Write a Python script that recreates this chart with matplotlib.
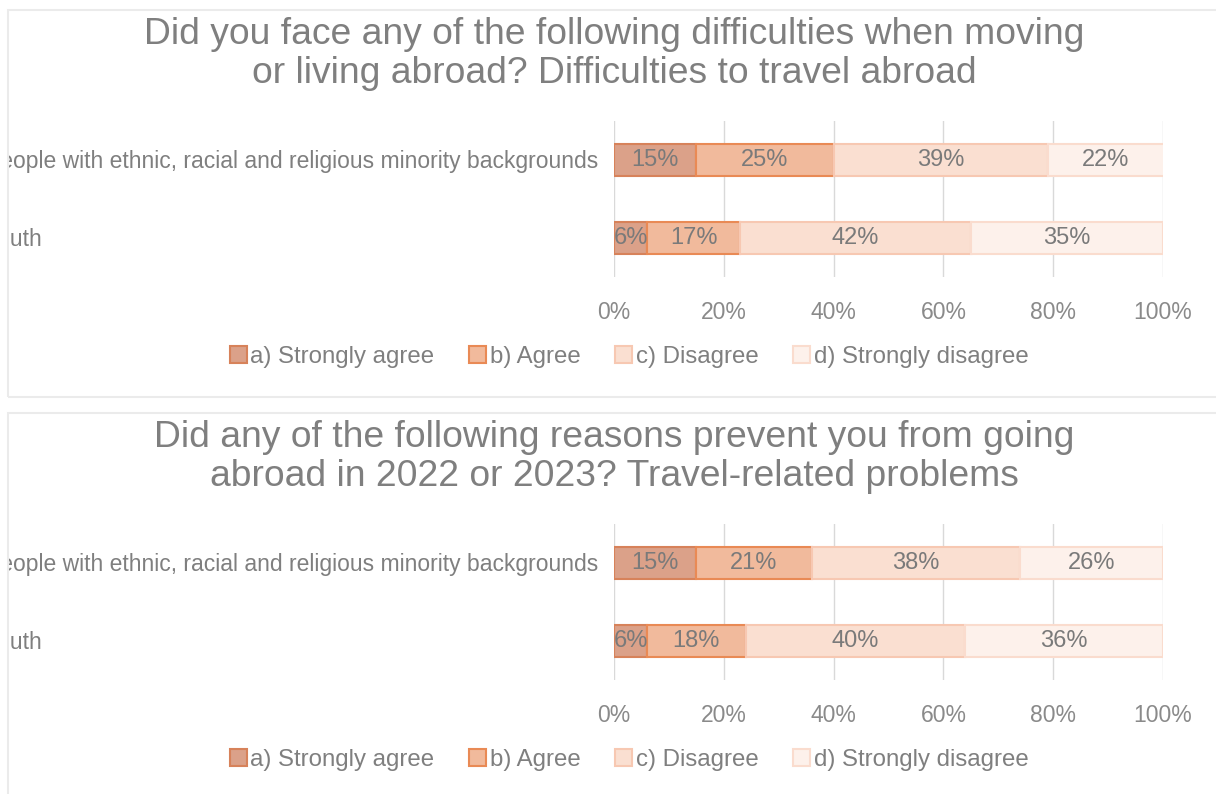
import matplotlib.pyplot as plt
from matplotlib.patches import Rectangle, Patch
from matplotlib.transforms import blended_transform_factory, Bbox, TransformedBbox
import numpy as np

plt.rcParams["font.family"] = ["Liberation Sans", "DejaVu Sans"]

categories = ["People with ethnic, racial and religious minority backgrounds", "Youth"]
answers = ["a) Strongly agree", "b) Agree", "c) Disagree", "d) Strongly disagree"]

titles = ["Did you face any of the following difficulties when moving\n"
          "or living abroad? Difficulties to travel abroad",
          "Did any of the following reasons prevent you from going\n"
          "abroad in 2022 or 2023? Travel-related problems"]

# share of answers in %, one row per category
travel_difficulties = [[15, 25, 39, 22], [6, 17, 42, 35]]
travel_problems = [[15, 21, 38, 26], [6, 18, 40, 36]]

fill_colors = ["#DBA189", "#F1BA9C", "#FADFD1", "#FDF1EB"]
edge_colors = ["#D7825A", "#E98A55", "#F7C8B2", "#FADCCE"]
grey = "#7f7f7f"

W, H = 1216, 794
fig = plt.figure(figsize=(W / 100, H / 100), dpi=100)


def px_box(x, y, w, h):
    # pixel box measured from the top-left corner -> figure fraction
    return [x / W, 1 - (y + h) / H, w / W, h / H]


def draw_panel(top, title, values):
    frame = Rectangle((8 / W, 1 - (top + 387) / H), 1.2, 387 / H,
                      transform=fig.transFigure, fill=False,
                      edgecolor="#ebebeb", lw=1.5)
    fig.patches.append(frame)
    inside = TransformedBbox(Bbox.from_bounds(9 / W, 1 - (top + 387) / H, 1, 387 / H),
                             fig.transFigure)

    fig.text(614 / W, 1 - (top + 44) / H, title, ha="center", va="center",
             fontsize=26.8, color=grey, linespacing=1.18)

    ax = fig.add_axes(px_box(614, top + 111, 549, 156))
    vals = np.array(values)
    y = np.arange(len(categories))
    left = np.zeros(len(categories))
    for i in range(len(answers)):
        bars = ax.barh(y, vals[:, i], left=left, height=0.41,
                       color=fill_colors[i], edgecolor=edge_colors[i],
                       lw=1.5, zorder=2, label=answers[i])
        ax.bar_label(bars, labels=[f"{v}%" for v in vals[:, i]],
                     label_type="center", fontsize=17, color="#7a7a7a")
        left += vals[:, i]

    ax.set_xlim(0, 100)
    ax.set_ylim(1.5, -0.5)
    ax.set_xticks(np.arange(0, 101, 20))
    ax.set_xticklabels([f"{t}%" for t in range(0, 101, 20)])
    ax.set_yticks([])
    ax.tick_params(length=0, labelsize=16.5, colors="#8a8a8a", pad=17)
    ax.grid(axis="x", color="#d9d9d9", lw=1, zorder=0)
    for s in ax.spines.values():
        s.set_visible(False)

    # category names are left aligned and cut by the panel frame
    trans = blended_transform_factory(fig.transFigure, ax.transData)
    for yi, name in zip(y, categories):
        fig.text(-15 / W, yi + 0.02, name, transform=trans, ha="left", va="center",
                 fontsize=16.5, color=grey, clip_box=inside, clip_on=True)

    handles = [Patch(facecolor=fill_colors[i], edgecolor=edge_colors[i], lw=1.5)
               for i in range(len(answers))]
    fig.legend(handles, answers, loc="center",
               bbox_to_anchor=(629 / W, 1 - (top + 347) / H), ncol=4,
               frameon=False, fontsize=17.3, labelcolor=grey,
               handlelength=0.7, handleheight=0.7, handletextpad=0.15,
               columnspacing=1.45)


draw_panel(10, titles[0], travel_difficulties)
draw_panel(413, titles[1], travel_problems)

fig.savefig("out.png", dpi=100, facecolor="white")
